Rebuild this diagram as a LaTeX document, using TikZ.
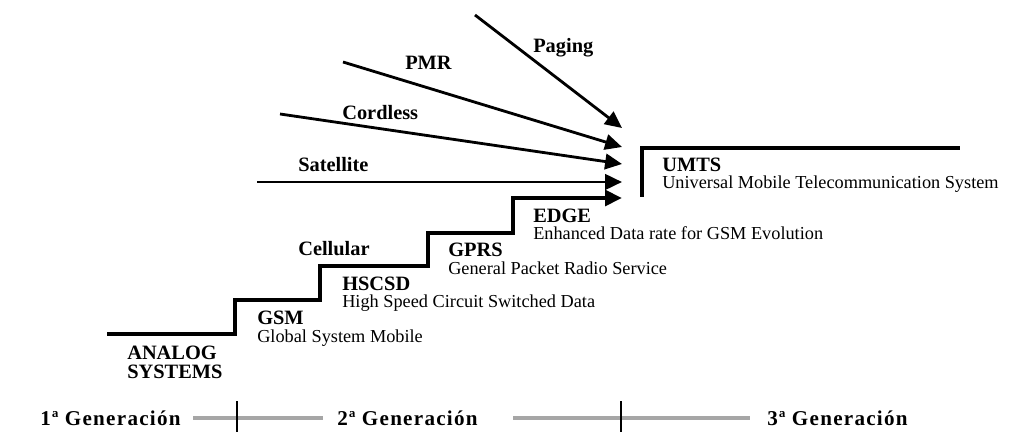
\documentclass[tikz,border=0pt]{standalone}
\usepackage{fontspec}
\setmainfont{Liberation Serif}
\usetikzlibrary{arrows.meta}
\begin{document}
\begin{tikzpicture}[x=0.025cm,y=-0.025cm,
  tip/.style={-{Triangle[length=12pt,width=11pt]}},
  stair/.style={line width=2.8pt,line join=miter},
  feeder/.style={line width=2pt,tip},
  ttl/.style={font=\fontsize{14.5}{16}\selectfont\bfseries,inner sep=0pt,anchor=base west},
  sub/.style={font=\fontsize{13}{15}\selectfont,inner sep=0pt,anchor=base west},
  lbl/.style={font=\fontsize{14.5}{16}\selectfont\bfseries,inner sep=0pt,anchor=base west},
  gen/.style={font=\fontsize{15}{17}\selectfont\bfseries\addfontfeature{LetterSpace=6},inner sep=0pt,anchor=base west},
  genline/.style={line width=2.6pt,draw=black!35},
  tick/.style={line width=0.8pt}]
\useasboundingbox[fill=white] (0,0) rectangle (1018,432);

% staircase of second-generation steps, ending in an arrow into UMTS
\coordinate (s0) at (107,334);
\coordinate (s1) at (235,334);
\coordinate (s2) at (235,300);
\coordinate (s3) at (320,300);
\coordinate (s4) at (320,266);
\coordinate (s5) at (428,266);
\coordinate (s6) at (428,233);
\coordinate (s7) at (513,233);
\coordinate (s8) at (513,198);
\coordinate (edgeTip) at (622,198);
\draw[stair,tip] (s0) -- (s1) -- (s2) -- (s3) -- (s4) -- (s5) -- (s6) -- (s7) -- (s8) -- (edgeTip);

% other systems converging into UMTS
\coordinate (pagA) at (475,15);   \coordinate (pagB) at (622,128);
\coordinate (pmrA) at (343,62);   \coordinate (pmrB) at (622,147);
\coordinate (corA) at (280,114);  \coordinate (corB) at (622,164);
\coordinate (satA) at (257,182);  \coordinate (satB) at (622,182);
\draw[feeder] (pagA) -- (pagB);
\draw[feeder] (pmrA) -- (pmrB);
\draw[feeder] (corA) -- (corB);
\draw[feeder] (satA) -- (satB);

\node[lbl] (paging) at (533,53) {Paging};
\node[lbl] (pmr) at (405,70) {PMR};
\node[lbl] (cordless) at (342,120) {Cordless};
\node[lbl] (satellite) at (298,172) {Satellite};
\node[lbl] (cellular) at (298,256) {Cellular};

% UMTS bracket
\coordinate (u0) at (642,197);
\coordinate (u1) at (642,148);
\coordinate (u2) at (960,148);
\draw[stair] (u0) -- (u1) -- (u2);

% step labels
\node[ttl] (umts) at (662,172) {UMTS};
\node[sub] (umtsT) at (662,189) {Universal Mobile Telecommunication System};
\node[ttl] (edge) at (533,223) {EDGE};
\node[sub] (edgeT) at (533,240) {Enhanced Data rate for GSM Evolution};
\node[ttl] (gprs) at (448,257) {GPRS};
\node[sub] (gprsT) at (448,274) {General Packet Radio Service};
\node[ttl] (hscsd) at (342,290) {HSCSD};
\node[sub] (hscsdT) at (342,307) {High Speed Circuit Switched Data};
\node[ttl] (gsm) at (257,324) {GSM};
\node[sub] (gsmT) at (257,342) {Global System Mobile};
\node[lbl,align=left,font=\fontsize{14.5}{13}\selectfont\bfseries] (analog) at (127,378) {ANALOG\\SYSTEMS};

% generation timeline
\node[gen] (g1) at (40,425) {1ª Generación};
\node[gen] (g2) at (337,425) {2ª Generación};
\node[gen] (g3) at (767,425) {3ª Generación};
\coordinate (l1a) at (193,418); \coordinate (l1b) at (323,418);
\coordinate (l2a) at (513,418); \coordinate (l2b) at (750,418);
\draw[genline] (l1a) -- (l1b);
\draw[genline] (l2a) -- (l2b);
\coordinate (t1a) at (237,401); \coordinate (t1b) at (237,432);
\coordinate (t2a) at (621,401); \coordinate (t2b) at (621,432);
\draw[tick] (t1a) -- (t1b);
\draw[tick] (t2a) -- (t2b);
\end{tikzpicture}
\end{document}
